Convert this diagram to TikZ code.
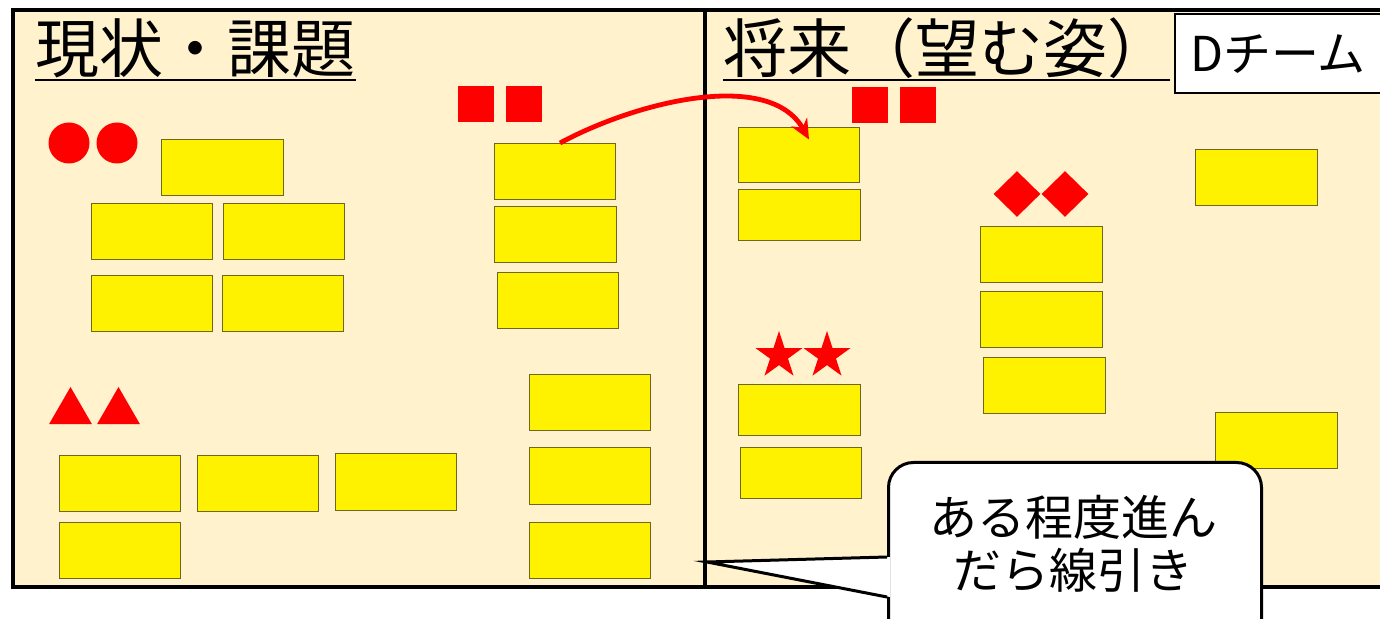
\documentclass[tikz,border=0pt]{standalone}
\usepackage{fontspec}
\newfontfamily\jp{Noto Sans CJK JP}
\usetikzlibrary{arrows.meta, shapes.geometric}
\definecolor{board}{RGB}{255,242,204}
\definecolor{cardedge}{RGB}{110,104,30}
\definecolor{markred}{RGB}{255,0,0}

\begin{document}
\begin{tikzpicture}
	[%
	x=0.5pt, y=-0.5pt,%
	card/.style   ={rectangle,	draw=cardedge,	fill=yellow,	line width=0.5pt,	inner sep=0pt,	minimum width=60.75pt,	minimum height=28pt},%
	dotmark/.style={circle,		fill=markred,	inner sep=0pt,	minimum size=20.5pt},%
	sqmark/.style ={rectangle,	fill=markred,	inner sep=0pt,	minimum size=18pt},%
	trimark/.style={regular polygon, regular polygon sides=3,	fill=markred,	inner sep=0pt,	minimum size=24.8pt},%
	dmmark/.style ={diamond,	fill=markred,	inner sep=0pt,	minimum width=23.5pt,	minimum height=23pt},%
	stmark/.style ={star, star points=5, star point ratio=2.618,	fill=markred,	inner sep=0pt,	minimum size=24.7pt},%
	title/.style  ={inner sep=0pt,	anchor=base west,	font=\jp\fontsize{32}{36}\selectfont},%
	uline/.style  ={line width=1.3pt},%
	teambox/.style={rectangle,	draw=black,	fill=white,	line width=1.1pt,	inner xsep=7.5pt,	text width=100pt,	align=left,	minimum height=39.5pt,	font=\jp\fontsize{24}{28}\selectfont},%
	notebox/.style={rectangle,	rounded corners=12.5pt,	draw=black,	fill=white,	line width=1.5pt,	inner sep=0pt},%
	noteline/.style={line width=1.5pt,	line join=miter},%
	move/.style   ={draw=markred,	line width=2.4pt,	-{Stealth[length=10pt, width=9pt]}},%
	]

	\useasboundingbox (0,0) rectangle (1380,619);
	\clip (0,0) rectangle (1380,619);
	\fill [white] (0,0) rectangle (1380,619);

	% board
	\draw [fill=board, line width=1.8pt] (13,10) rectangle (1420,587);
	\draw [line width=1.8pt] (705,10) -- (705,587);

	% titles
	\node (now) at (35,72.5) [title] {現状・課題};
	\draw [uline] ([shift={(0,7.5)}]now.base west) -- ([shift={(0,7.5)}]now.base east);
	\node (team) at (1174,13) [teambox, anchor=north west] {Dチーム};
	\node (future) at (723,72.5) [title] {将来（望む姿）};
	\coordinate (ulend) at (future.base west -| team.west);
	\draw [uline] ([shift={(0,7.5)}]future.base west) -- ([shift={(-4,7.5)}]ulend);

	% cards, current state
	\node (dcard1) at (222.5,167.5) [card] {};
	\node (dcard2) at (152,231.5) [card] {};
	\node (dcard3) at (284,231.5) [card] {};
	\node (dcard4) at (152,303.5) [card] {};
	\node (dcard5) at (283,303.5) [card] {};

	\node (lcard1) at (555,171.5) [card] {};
	\node (lcard2) at (555.5,235) [card] {};
	\node (lcard3) at (558,301) [card] {};

	\node (tcard1) at (120,483.5) [card] {};
	\node (tcard2) at (258,483.5) [card] {};
	\node (tcard3) at (396,482) [card] {};
	\node (tcard4) at (120,550) [card] {};

	\foreach \y [count=\i] in {402.5,476,550} \node (ocard\i) at (590,\y) [card] {};

	% cards, future
	\node (rcard1) at (799,155.5) [card, minimum height=27.5pt] {};
	\node (rcard2) at (799.5,215) [card, minimum height=25.5pt] {};
	\node (scard1) at (799.5,410.5) [card, minimum height=25.5pt] {};
	\node (scard2) at (801,473.5) [card, minimum height=25.5pt] {};

	\node (mcard1) at (1041.5,255) [card] {};
	\node (mcard2) at (1041.5,320) [card] {};
	\node (mcard3) at (1044.5,386) [card] {};

	\node (fcard1) at (1256.5,178) [card] {};
	\node (fcard2) at (1276.5,440.5) [card] {};

	% marks
	\foreach \x [count=\i] in {69,117}      \node (dot\i) at (\x,143)   [dotmark] {};
	\foreach \x [count=\i] in {476,523.5}   \node (lsq\i) at (\x,104)   [sqmark] {};
	\foreach \x [count=\i] in {870,918}     \node (rsq\i) at (\x,105)   [sqmark] {};
	\foreach \x [count=\i] in {70.5,118.5}  \node (tri\i) at (\x,411.8) [trimark] {};
	\foreach \x [count=\i] in {1017,1065}   \node (dm\i)  at (\x,194)   [dmmark] {};
	\foreach \x [count=\i] in {779,827}     \node (st\i)  at (\x,355.7) [stmark] {};

	% moved card
	\draw [move] ([shift={(5,0)}]lcard1.north) .. controls (640,100) and (770,70) .. ([shift={(10,-16)}]rcard1.center);

	% callout
	\node (note) at (887,461) [notebox, anchor=north west, minimum width=186.5pt, minimum height=100pt] {};
	\node (notetext) at (1073,544) [align=center, font=\jp\fontsize{24}{26.5}\selectfont] {ある程度進ん\\だら線引き};
	\coordinate (tip) at (707,562);
	\coordinate (base1) at (887,557);
	\coordinate (base2) at (887,597);
	\fill [white] ([shift={(3,0)}]base1) -- (tip) -- ([shift={(3,0)}]base2) -- cycle;
	\draw [noteline] (base1) -- (tip) -- (base2);

\end{tikzpicture}
\end{document}
